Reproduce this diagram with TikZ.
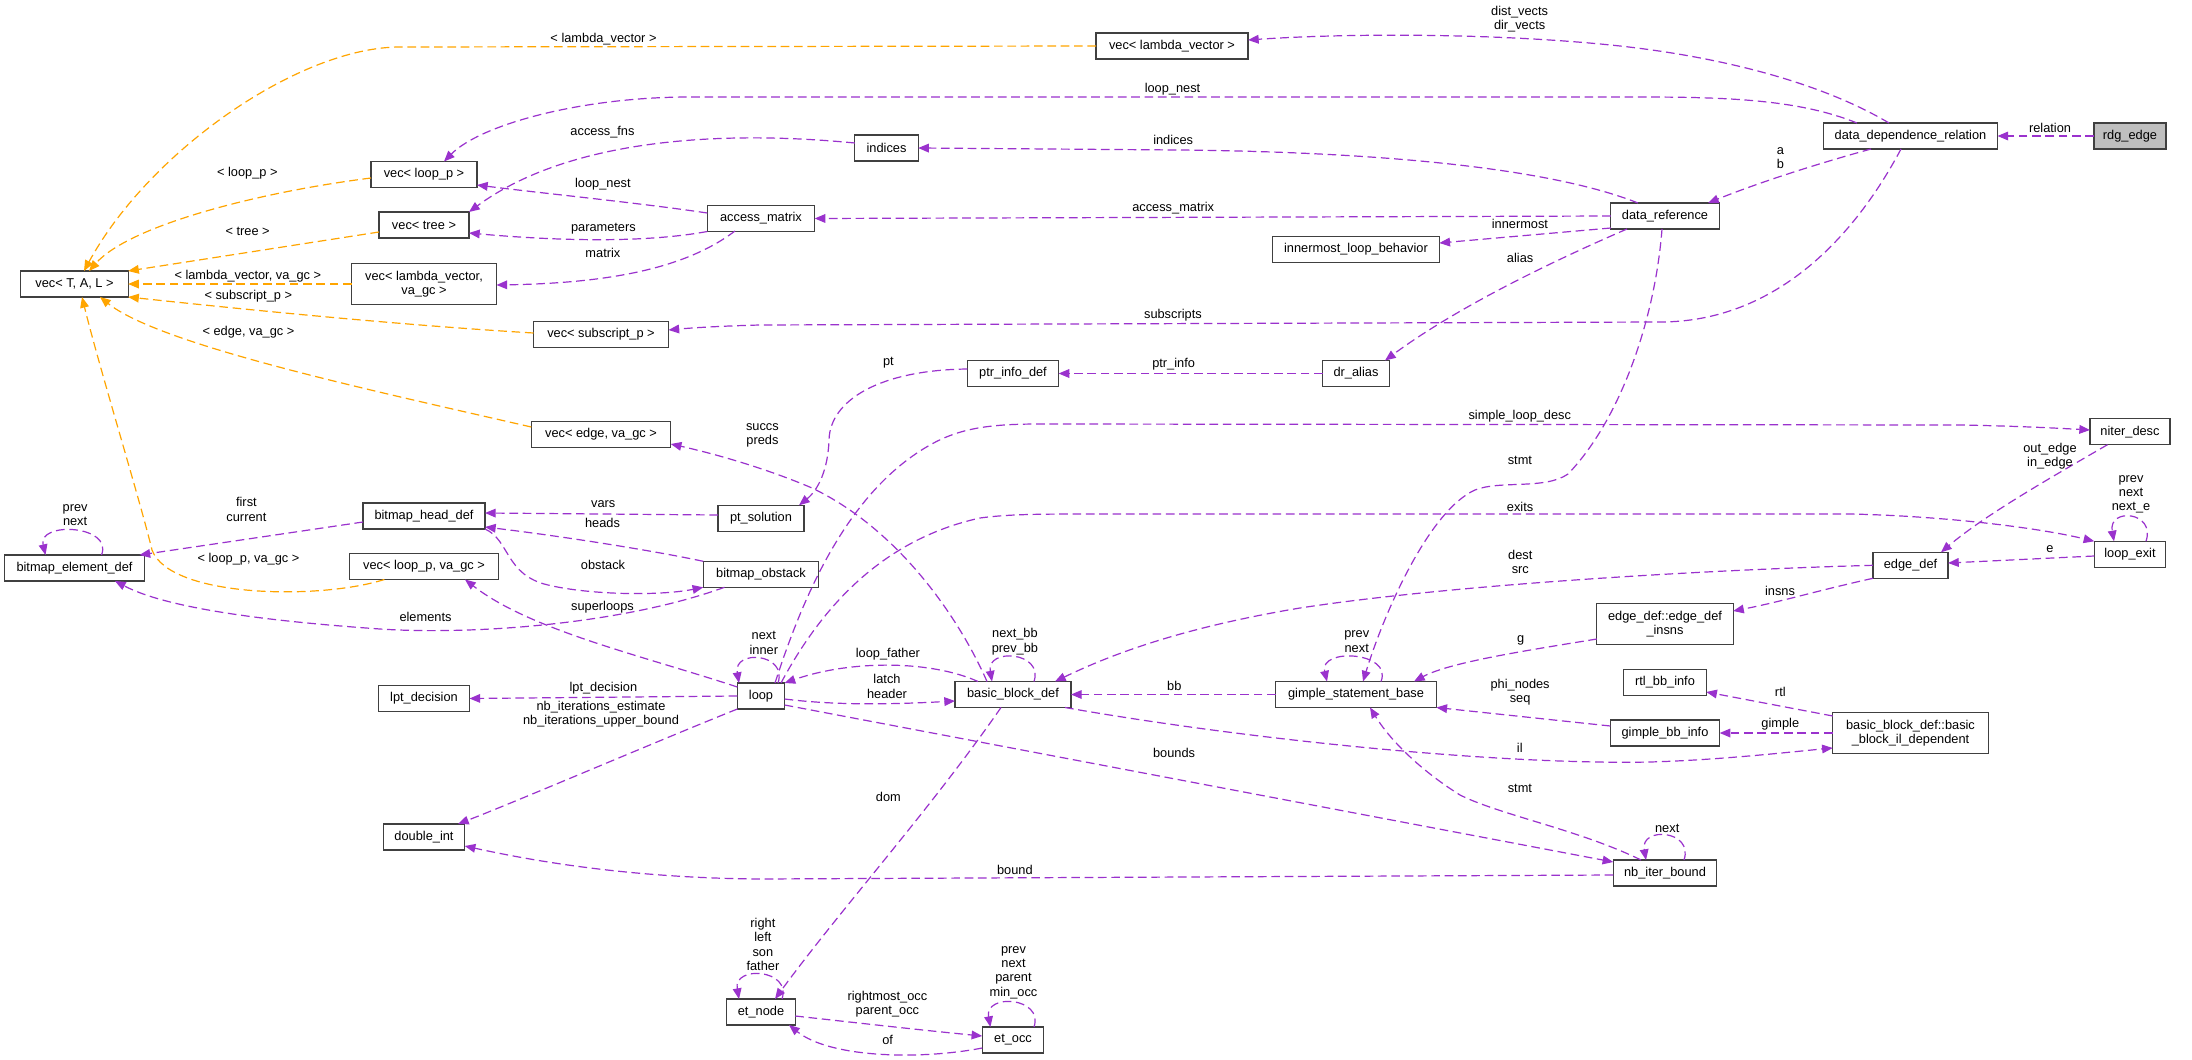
\documentclass[tikz,border=0pt]{standalone}
\usepackage{fontspec}
\setmainfont{Liberation Sans}
\usetikzlibrary{arrows.meta,calc}
\definecolor{purp}{RGB}{154,50,205}
\definecolor{orng}{RGB}{255,165,0}
\definecolor{boxc}{RGB}{64,64,64}
\definecolor{rdgfill}{RGB}{191,191,191}
\newcommand\fnt{\fontsize{9.6}{10.7}\selectfont}
\begin{document}
\begin{tikzpicture}[x=0.75pt,y=-0.75pt,
  cls/.style={draw=boxc, fill=white, line width=0.9pt, inner sep=0pt, outer sep=0pt, minimum height=19.5pt, align=center, font=\fnt},
  cls2/.style={cls, minimum height=30.4pt},
  rel/.style={draw=purp, line width=0.9pt, dash pattern=on 6.5pt off 3.5pt, -{Triangle[length=8pt,width=6.5pt]}},
  tpl/.style={rel, draw=orng},
  lbl/.style={inner sep=0pt, align=center, font=\fnt}]
\fill[white] (0,0) rectangle (2192,1060);
\useasboundingbox (0,0) rectangle (2192,1060);
% nodes
\node[cls, minimum width=80.5pt] (vecTAL) at (74.5,284) {vec< T, A, L >};
\node[cls, minimum width=79.5pt] (vecLoopP) at (424,174.5) {vec< loop\_p >};
\node[cls, minimum width=67.5pt] (vecTree) at (424,225) {vec< tree >};
\node[cls2, minimum width=108.75pt] (vecLamGC) at (424,284) {vec< lambda\_vector,\\ va\_gc >};
\node[cls, minimum width=101.25pt] (vecSub) at (601,334.5) {vec< subscript\_p >};
\node[cls, minimum width=47.5pt] (indices) at (886.5,148) {indices};
\node[cls, minimum width=80.5pt] (accMat) at (761,218.5) {access\_matrix};
\node[cls, minimum width=114pt] (vecLam) at (1172,46) {vec< lambda\_vector >};
\node[cls, minimum width=81.2pt] (dataRef) at (1665,216) {data\_reference};
\node[cls, minimum width=125pt] (innermost) at (1356,249.5) {innermost\_loop\_behavior};
\node[cls, minimum width=130.5pt] (ddr) at (1910.5,136) {data\_dependence\_relation};
\node[cls, fill=rdgfill, minimum width=54pt] (rdg) at (2130,136) {rdg\_edge};
\node[cls, minimum width=104.6pt] (bitElem) at (74.5,568) {bitmap\_element\_def};
\node[cls, minimum width=91.5pt] (bitHead) at (424,516) {bitmap\_head\_def};
\node[cls, minimum width=111.4pt] (vecLoopGC) at (424,566.5) {vec< loop\_p, va\_gc >};
\node[cls, minimum width=68.25pt] (lpt) at (424,698.5) {lpt\_decision};
\node[cls, minimum width=104.6pt] (vecEdge) at (601,434.5) {vec< edge, va\_gc >};
\node[cls, minimum width=68.4pt] (ptrInfo) at (1013,373.5) {ptr\_info\_def};
\node[cls, minimum width=64.5pt] (ptSol) at (761,518.3) {pt\_solution};
\node[cls, minimum width=86.6pt] (bitObs) at (761,574.3) {bitmap\_obstack};
\node[cls, minimum width=35.4pt] (loop) at (761,696) {loop};
\node[cls, minimum width=87pt] (bb) at (1013,694.5) {basic\_block\_def};
\node[cls, minimum width=50pt] (drAlias) at (1356,373.5) {dr\_alias};
\node[cls, minimum width=120.6pt] (gimple) at (1356,694.5) {gimple\_statement\_base};
\node[cls2, minimum width=102.2pt] (edgeIns) at (1665,624) {edge\_def::edge\_def\\\_insns};
\node[cls, minimum width=61.9pt] (rtlBB) at (1665,682.5) {rtl\_bb\_info};
\node[cls, minimum width=60pt] (niter) at (2130,431.7) {niter\_desc};
\node[cls, minimum width=53.6pt] (loopExit) at (2130,554.3) {loop\_exit};
\node[cls, minimum width=56.3pt] (edgeDef) at (1910.5,565.3) {edge\_def};
\node[cls, minimum width=82pt] (gimpleBB) at (1665,733) {gimple\_bb\_info};
\node[cls, minimum width=77.6pt] (nbIter) at (1665,873) {nb\_iter\_bound};
\node[cls2, minimum width=116.6pt] (ilDep) at (1910.5,733) {basic\_block\_def::basic\\\_block\_il\_dependent};
\node[cls, minimum width=61pt] (doubleInt) at (424,837) {double\_int};
\node[cls, minimum width=51.4pt] (etNode) at (761,1012) {et\_node};
\node[cls, minimum width=46.1pt] (etOcc) at (1013,1040) {et\_occ};
% template edges
\draw[tpl] (vecLam.west) -- (400,47) .. controls (300,47) and (150,150) .. ($(vecTAL)+(9.5,-13)$);
\draw[tpl] ($(vecLoopP)+(-53,3.5)$) .. controls (260,192) and (130,225) .. ($(vecTAL)+(14.5,-13)$);
\draw[tpl] ($(vecTree)+(-45,7)$) -- (vecTAL.north east);
\draw[tpl] (vecLamGC.west) -- (vecTAL.east);
\draw[tpl] ($(vecSub)+(-67.5,-1.5)$) .. controls (400,325) and (250,310) .. (vecTAL.south east);
\draw[tpl] ($(vecEdge)+(-69.75,-7.5)$) .. controls (370,390) and (160,345) .. ($(vecTAL)+(25.5,13)$);
\draw[tpl] ($(vecLoopGC)+(-39.6,13)$) .. controls (320,600) and (170,598) .. (152,550) .. controls (140,500) and (100,370) .. ($(vecTAL)+(7.5,13)$);
% member edges
\draw[rel] (rdg.west) -- (ddr.east);
\draw[rel] ($(ddr)+(-21.5,-13)$) .. controls (1820,82) and (1720,57) .. (1620,46) .. controls (1500,33) and (1350,33) .. ($(vecLam)+(76,-6)$);
\draw[rel] ($(ddr)+(-53.5,-13)$) .. controls (1800,100) and (1730,97) .. (1640,97) -- (690,97) .. controls (580,97) and (480,125) .. ($(vecLoopP)+(20,-13)$);
\draw[rel] ($(dataRef)+(-27,-13)$) .. controls (1550,168) and (1380,152) .. (1180,150) -- (indices.east);
\draw[rel] ($(indices)+(-31.65,-5)$) .. controls (700,128) and (560,145) .. (vecTree.north east);
\draw[rel] ($(accMat)+(-53.65,-5.5)$) .. controls (640,203) and (540,193) .. ($(vecLoopP)+(53,10.5)$);
\draw[rel] (accMat.south west) .. controls (650,242) and (570,242) .. ($(vecTree)+(45,8)$);
\draw[rel] ($(accMat)+(-26,12.5)$) .. controls (690,265) and (620,283) .. ($(vecLamGC)+(72.5,1)$);
\draw[rel] (dataRef.west) -- (accMat.east);
\draw[rel] ($(dataRef)+(-54.15,12)$) -- ($(innermost)+(83.35,-6.5)$);
\draw[rel] ($(ddr)+(-39.5,13)$) .. controls (1820,163) and (1760,182) .. ($(dataRef)+(43,-13)$);
\draw[rel] ($(dataRef)+(-38,13)$) .. controls (1560,258) and (1460,305) .. ($(drAlias)+(29,-13)$);
\draw[rel] ($(ddr)+(-9.5,13)$) .. controls (1850,245) and (1770,322) .. (1660,322) -- (760,325) .. controls (720,326) and (690,328) .. ($(vecSub)+(67.5,-4.5)$);
\draw[rel] (drAlias.west) -- (ptrInfo.east);
\draw[rel] ($(ptrInfo)+(-45.6,-4.5)$) .. controls (880,370) and (830,400) .. (829,440) .. controls (828,470) and (818,490) .. ($(ptSol)+(38,-13)$);
\draw[rel] ($(ptSol)+(-43,-3.3)$) -- ($(bitHead)+(61,-3)$);
\draw[rel] (bitObs.north west) .. controls (650,550) and (560,536) .. ($(bitHead)+(61,11)$);
\draw[rel] (bitHead.south east) .. controls (510,540) and (505,575) .. (548,585) .. controls (590,595) and (660,596) .. (bitObs.south west);
\draw[rel] ($(bitObs)+(-36.5,13)$) .. controls (620,625) and (470,635) .. (380,629) .. controls (280,622) and (170,610) .. ($(bitElem)+(40.5,13)$);
\draw[rel] ($(bitHead)+(-61,6)$) -- ($(bitElem)+(65,-13)$);
\draw[rel] ($(bitElem)+(27,-13)$) .. controls +(12,-30) and +(-8,-34) .. ($(bitElem)+(-29,-13)$);
\draw[rel] ($(loop)+(-23.6,-9)$) .. controls (640,655) and (530,630) .. ($(vecLoopGC)+(41,13)$);
\draw[rel] (loop.west) -- (lpt.east);
\draw[rel] (loop.south west) .. controls (660,740) and (520,800) .. ($(doubleInt)+(34,-13)$);
\draw[rel] ($(nbIter)+(-51.75,2)$) -- (760,879) .. controls (620,878) and (520,858) .. ($(doubleInt)+(40.7,9)$);
\draw[rel] ($(loop)+(23.6,9)$) -- ($(nbIter)+(-51.75,-11)$);
\draw[rel] ($(nbIter)+(-24,-13)$) .. controls (1580,830) and (1500,815) .. (1460,795) .. controls (1420,770) and (1390,740) .. ($(gimple)+(14,13)$);
\draw[rel] ($(nbIter)+(19,-13)$) .. controls +(10,-30) and +(-6,-34) .. ($(nbIter)+(-19,-13)$);
\draw[rel] ($(loop)+(17,-13)$) .. controls +(10,-30) and +(-6,-34) .. ($(loop)+(-22,-13)$);
\draw[rel] ($(bb)+(-35,-13)$) .. controls (930,660) and (850,660) .. (loop.north east);
\draw[rel] ($(loop)+(23.6,3)$) .. controls (840,706) and (900,704) .. ($(bb)+(-58,6.5)$);
\draw[rel] ($(bb)+(21,-13)$) .. controls +(10,-30) and +(-6,-34) .. ($(bb)+(-21,-13)$);
\draw[rel] ($(bb)+(-26,-13)$) .. controls (960,620) and (900,530) .. (812,488) .. controls (770,470) and (720,455) .. ($(vecEdge)+(69.75,9.5)$);
\draw[rel] ($(bb)+(-12,13)$) .. controls (930,810) and (840,910) .. ($(etNode)+(14,-13)$);
\draw[rel] ($(etNode)+(21,-13)$) .. controls +(10,-30) and +(-6,-34) .. ($(etNode)+(-22,-13)$);
\draw[rel] ($(etNode)+(34.25,4)$) .. controls (850,1022) and (920,1030) .. ($(etOcc)+(-30.75,-4)$);
\draw[rel] ($(etOcc)+(-30.75,8)$) .. controls (920,1060) and (830,1058) .. ($(etNode)+(28,13)$);
\draw[rel] ($(etOcc)+(21,-13)$) .. controls +(10,-30) and +(-6,-34) .. ($(etOcc)+(-22.6,-13)$);
\draw[rel] (gimple.west) -- (bb.east);
\draw[rel] ($(gimple)+(25,-13)$) .. controls +(12,-30) and +(-8,-34) .. ($(gimple)+(-29,-13)$);
\draw[rel] ($(dataRef)+(-3,13)$) .. controls (1655,320) and (1620,420) .. (1568,474) .. controls (1545,490) and (1500,480) .. (1475,490) .. controls (1430,510) and (1385,610) .. ($(gimple)+(7,-13)$);
\draw[rel] ($(edgeIns)+(-68.15,15)$) .. controls (1530,650) and (1450,662) .. ($(gimple)+(58,-13)$);
\draw[rel] (edgeDef.south west) .. controls (1820,590) and (1780,602) .. ($(edgeIns)+(68.15,-13)$);
\draw[rel] (edgeDef.west) .. controls (1700,570) and (1450,585) .. (1300,608) .. controls (1180,628) and (1110,655) .. ($(bb)+(42,-13)$);
\draw[rel] ($(loopExit)+(-35.75,1.7)$) -- ($(edgeDef)+(37.55,-2.3)$);
\draw[rel] ($(niter)+(-22.5,13)$) .. controls (2050,478) and (1985,515) .. ($(edgeDef)+(30.5,-13)$);
\draw[rel] ($(loopExit)+(16,-13)$) .. controls +(10,-30) and +(-6,-34) .. ($(loopExit)+(-16,-13)$);
\draw[rel] ($(loop)+(14,-13)$) .. controls (805,590) and (850,490) .. (930,445) .. controls (960,428) and (990,424) .. (1040,424) -- (1960,425) .. controls (2015,426) and (2055,428) .. ($(niter)+(-40,-1.7)$);
\draw[rel] ($(loop)+(20,-13)$) .. controls (820,610) and (880,540) .. (980,518) .. controls (1010,514) and (1040,514) .. (1100,514) -- (1850,514) .. controls (1945,516) and (2040,528) .. (loopExit.north west);
\draw[rel] ($(bb)+(52,13)$) .. controls (1250,740) and (1500,765) .. (1650,762) .. controls (1720,760) and (1790,752) .. ($(ilDep)+(-77.75,15)$);
\draw[rel] (ilDep.west) -- (gimpleBB.east);
\draw[rel] ($(ilDep)+(-77.75,-17)$) -- ($(rtlBB)+(41.25,9.5)$);
\draw[rel] ($(gimpleBB)+(-54.7,-7)$) -- (gimple.south east);
% labels
\node[lbl] (l1) at (603.5,39) {< lambda\_vector >};
\node[lbl] (l2) at (247.3,173) {< loop\_p >};
\node[lbl] (l3) at (247.6,231) {< tree >};
\node[lbl] (l4) at (247.8,276) {< lambda\_vector, va\_gc >};
\node[lbl] (l5) at (248.3,296) {< subscript\_p >};
\node[lbl] (l6) at (248.5,332) {< edge, va\_gc >};
\node[lbl] (l7) at (248.5,559) {< loop\_p, va\_gc >};
\node[lbl] (l8) at (2050,128) {relation};
\node[lbl] (l9) at (1519.6,19) {dist\_vects\\dir\_vects};
\node[lbl] (l10) at (1172.5,89) {loop\_nest};
\node[lbl] (l11) at (1173.2,140) {indices};
\node[lbl] (l12) at (602.5,132) {access\_fns};
\node[lbl] (l13) at (602.9,184) {loop\_nest};
\node[lbl] (l14) at (603.4,229) {parameters};
\node[lbl] (l15) at (602.9,253) {matrix};
\node[lbl] (l16) at (1173.2,208) {access\_matrix};
\node[lbl] (l17) at (1519.9,224) {innermost};
\node[lbl] (l18) at (1780.3,158) {a\\b};
\node[lbl] (l19) at (1520.1,258) {alias};
\node[lbl] (l20) at (1172.9,315) {subscripts};
\node[lbl] (l21) at (1173.6,364) {ptr\_info};
\node[lbl] (l22) at (888.4,363) {pt};
\node[lbl] (l23) at (603.2,504) {vars};
\node[lbl] (l24) at (602.5,523) {heads};
\node[lbl] (l25) at (603,565) {obstack};
\node[lbl] (l26) at (425.5,617) {elements};
\node[lbl] (l27) at (246.4,509.5) {first\\current};
\node[lbl] (l28) at (75.1,515.3) {prev\\next};
\node[lbl] (l29) at (602.5,607) {superloops};
\node[lbl] (l30) at (603.4,688) {lpt\_decision};
\node[lbl] (l31) at (601,714) {nb\_iterations\_estimate\\nb\_iterations\_upper\_bound};
\node[lbl] (l32) at (1014.9,870) {bound};
\node[lbl] (l33) at (1174.1,753) {bounds};
\node[lbl] (l34) at (1519.9,788) {stmt};
\node[lbl] (l35) at (1667.2,828) {next};
\node[lbl] (l36) at (763.8,643) {next\\inner};
\node[lbl] (l37) at (887.9,654) {loop\_father};
\node[lbl] (l38) at (887,686.5) {latch\\header};
\node[lbl] (l39) at (1014.9,641.7) {next\_bb\\prev\_bb};
\node[lbl] (l40) at (762.4,435.3) {succs\\preds};
\node[lbl] (l41) at (888.4,797) {dom};
\node[lbl] (l42) at (762.9,944.3) {right\\left\\son\\father};
\node[lbl] (l43) at (887.4,1004) {rightmost\_occ\\parent\_occ};
\node[lbl] (l44) at (887.7,1040) {of};
\node[lbl] (l45) at (1013.5,972.6) {prev\\next\\parent\\min\_occ};
\node[lbl] (l46) at (1174.3,686) {bb};
\node[lbl] (l47) at (1356.7,641.7) {prev\\next};
\node[lbl] (l48) at (1519.9,460) {stmt};
\node[lbl] (l49) at (1520.6,640) {g};
\node[lbl] (l50) at (1780,591) {insns};
\node[lbl] (l51) at (1520.3,561.8) {dest\\src};
\node[lbl] (l52) at (2050,549) {e};
\node[lbl] (l53) at (2050,456.2) {out\_edge\\in\_edge};
\node[lbl] (l54) at (2131,494.5) {prev\\next\\next\_e};
\node[lbl] (l55) at (1519.8,416) {simple\_loop\_desc};
\node[lbl] (l56) at (1520.1,507) {exits};
\node[lbl] (l57) at (1519.8,748) {il};
\node[lbl] (l58) at (1780.3,724) {gimple};
\node[lbl] (l59) at (1780.3,692) {rtl};
\node[lbl] (l60) at (1520.1,692.3) {phi\_nodes\\seq};
\end{tikzpicture}
\end{document}
